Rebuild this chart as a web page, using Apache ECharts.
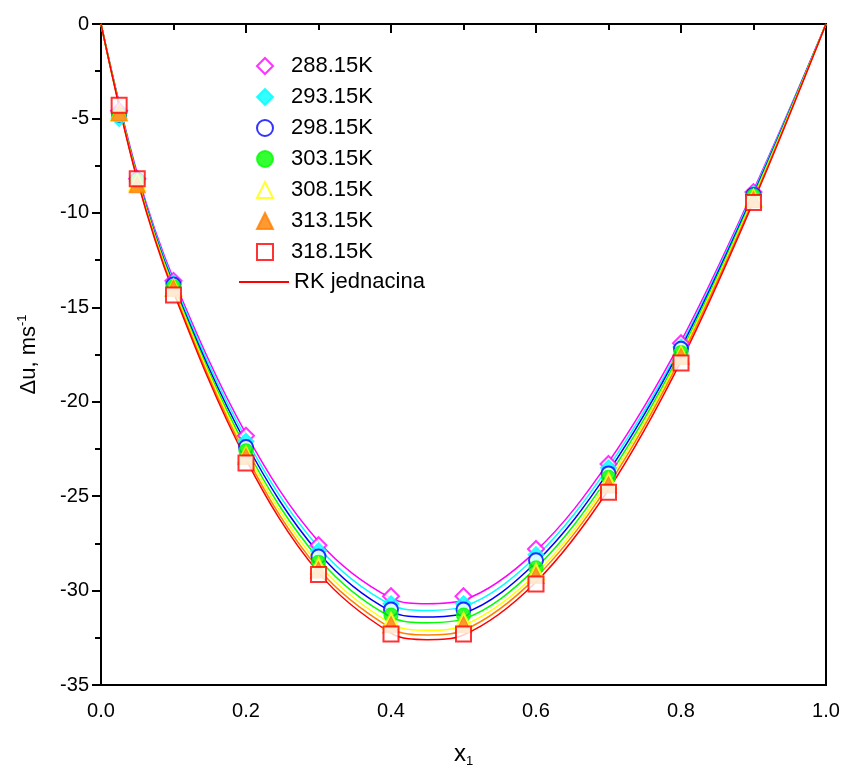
<!DOCTYPE html>
<html>
<head>
<meta charset="utf-8">
<script src="https://cdn.jsdelivr.net/npm/echarts@6/dist/echarts.min.js"></script>
<style>
  html, body { margin: 0; padding: 0; background: #fff; }
  #chart { width: 845px; height: 775px; }
</style>
</head>
<body>
<div id="chart"></div>
<script>
// measured points, x1 mole fraction
const xPts = [0.025, 0.05, 0.1, 0.2, 0.3, 0.4, 0.5, 0.6, 0.7, 0.8, 0.9]
const p288 = [-4.6, -8.2, -13.6, -21.8, -27.6, -30.3, -30.3, -27.8, -23.3, -16.9, -8.9]
const p293 = [-5.0, -8.25, -13.7, -22.1, -27.9, -30.7, -30.7, -28.1, -23.5, -17.1, -9.0]
const p298 = [-4.8, -8.25, -13.8, -22.4, -28.2, -31.0, -31.0, -28.4, -23.8, -17.2, -9.05]
const p303 = [-4.8, -8.3, -13.9, -22.6, -28.5, -31.3, -31.3, -28.8, -24.0, -17.4, -9.1]
const p308 = [-4.7, -8.4, -13.95, -22.8, -28.7, -31.6, -31.6, -29.0, -24.2, -17.5, -9.2]
const p313 = [-4.7, -8.5, -14.0, -22.9, -28.9, -31.8, -31.8, -29.2, -24.4, -17.6, -9.3]
const p318 = [-4.3, -8.2, -14.35, -23.25, -29.15, -32.3, -32.3, -29.65, -24.8, -17.95, -9.45]

// RK fitted curves
const xFit = [0, 0.05, 0.1, 0.2, 0.3, 0.4, 0.45, 0.5, 0.6, 0.7, 0.8, 0.9, 1.0]
const fit288 = [0, -7.9, -13.5, -21.7, -27.4, -30.4, -30.7, -30.5, -27.9, -23.2, -16.8, -8.8, 0]
const fit293 = [0, -8.0, -13.65, -21.95, -27.7, -30.75, -31.05, -30.85, -28.2, -23.45, -17.0, -8.9, 0]
const fit298 = [0, -8.05, -13.8, -22.2, -28.0, -31.1, -31.4, -31.2, -28.5, -23.7, -17.15, -9.0, 0]
const fit303 = [0, -8.1, -13.9, -22.45, -28.3, -31.4, -31.7, -31.5, -28.8, -23.95, -17.35, -9.1, 0]
const fit308 = [0, -8.15, -14.0, -22.65, -28.6, -31.75, -32.1, -31.85, -29.1, -24.2, -17.5, -9.2, 0]
const fit313 = [0, -8.2, -14.1, -22.85, -28.85, -32.0, -32.35, -32.1, -29.3, -24.4, -17.65, -9.3, 0]
const fit318 = [0, -8.25, -14.2, -23.05, -29.05, -32.25, -32.6, -32.35, -29.55, -24.65, -17.85, -9.4, 0]

const temps   = ['288.15K', '293.15K', '298.15K', '303.15K', '308.15K', '313.15K', '318.15K']
const points  = [p288, p293, p298, p303, p308, p313, p318]
const fits    = [fit288, fit293, fit298, fit303, fit308, fit313, fit318]
const colors  = ['#ff00ff', '#00ffff', '#0000ff', '#00ff00', '#ffff00', '#ff8000', '#ff0000']
const symbols = ['emptyDiamond', 'diamond', 'emptyCircle', 'circle', 'emptyTriangle', 'triangle', 'emptyRect']
const sizes   = [16, 16, 14, 14, 16, 16, 15]
const FIT_NAME = 'RK jednacina'

const FONT = 'Arial, "Liberation Sans", sans-serif'
const pair = (xs, ys) => xs.map((x, i) => [x, ys[i]])

const series = []
// curves first so the markers sit on top
fits.forEach((f, i) => {
  series.push({
    name: i === 6 ? FIT_NAME : 'fit' + temps[i],
    type: 'line',
    data: pair(xFit, f),
    smooth: 0.35,
    symbol: 'none',
    lineStyle: { color: colors[i], width: 1.5 },
    itemStyle: { color: colors[i] },
    z: 2,
  })
})
points.forEach((p, i) => {
  series.push({
    name: temps[i],
    type: 'scatter',
    data: pair(xPts, p),
    symbol: symbols[i],
    symbolSize: sizes[i],
    itemStyle: { color: colors[i], borderColor: colors[i], borderWidth: 1.2 },
    z: 3 + i,
  })
})

const legendText = { fontSize: 22, color: '#000', lineHeight: 22, fontFamily: FONT }

const chart = echarts.init(document.getElementById('chart'), null, { renderer: 'canvas' })
chart.setOption({
  animation: false,
  backgroundColor: '#fff',
  textStyle: { fontFamily: FONT },
  grid: {
    left: 101, right: 19, top: 24, bottom: 90,
    show: true, borderColor: '#000', borderWidth: 2,
  },
  legend: [
    {
      // marker entries
      data: temps,
      orient: 'vertical',
      left: 251,
      top: 50,
      itemWidth: 16,
      itemHeight: 16,
      itemGap: 9,
      textStyle: { ...legendText, padding: [0, 0, 0, 13] },
    },
    {
      // fitted curve entry
      data: [{ name: FIT_NAME, itemStyle: { opacity: 0 } }],
      orient: 'vertical',
      left: 233,
      top: 266,
      itemWidth: 50,
      itemHeight: 16,
      textStyle: legendText,
    },
  ],
  xAxis: {
    type: 'value',
    min: 0, max: 1, interval: 0.2,
    name: 'x{sub|1}',
    nameLocation: 'middle',
    nameGap: 56,
    nameTextStyle: {
      fontSize: 24, color: '#000', fontFamily: FONT,
      rich: { sub: { fontSize: 13, verticalAlign: 'bottom', padding: [14, 0, 0, 0] } },
    },
    axisLine: { show: true, lineStyle: { color: '#000', width: 2 } },
    axisTick: { show: true, length: 9, lineStyle: { color: '#000', width: 2 } },
    minorTick: { show: true, splitNumber: 2, length: 6, lineStyle: { color: '#000', width: 2 } },
    axisLabel: { fontSize: 20, color: '#000', margin: 16, formatter: v => v.toFixed(1) },
    splitLine: { show: false },
  },
  yAxis: {
    type: 'value',
    min: -35, max: 0, interval: 5,
    name: 'Δu, ms{sup|-1}',
    nameLocation: 'middle',
    nameRotate: 90,
    nameGap: 60,
    nameTextStyle: {
      fontSize: 22, color: '#000', fontFamily: FONT,
      rich: { sup: { fontSize: 13, verticalAlign: 'top', padding: [0, 0, 12, 0] } },
    },
    axisLine: { show: true, onZero: false, lineStyle: { color: '#000', width: 2 } },
    axisTick: { show: true, length: 9, lineStyle: { color: '#000', width: 2 } },
    minorTick: { show: true, splitNumber: 2, length: 6, lineStyle: { color: '#000', width: 2 } },
    axisLabel: { fontSize: 20, color: '#000', margin: 12 },
    splitLine: { show: false },
  },
  series,
})
</script>
</body>
</html>
